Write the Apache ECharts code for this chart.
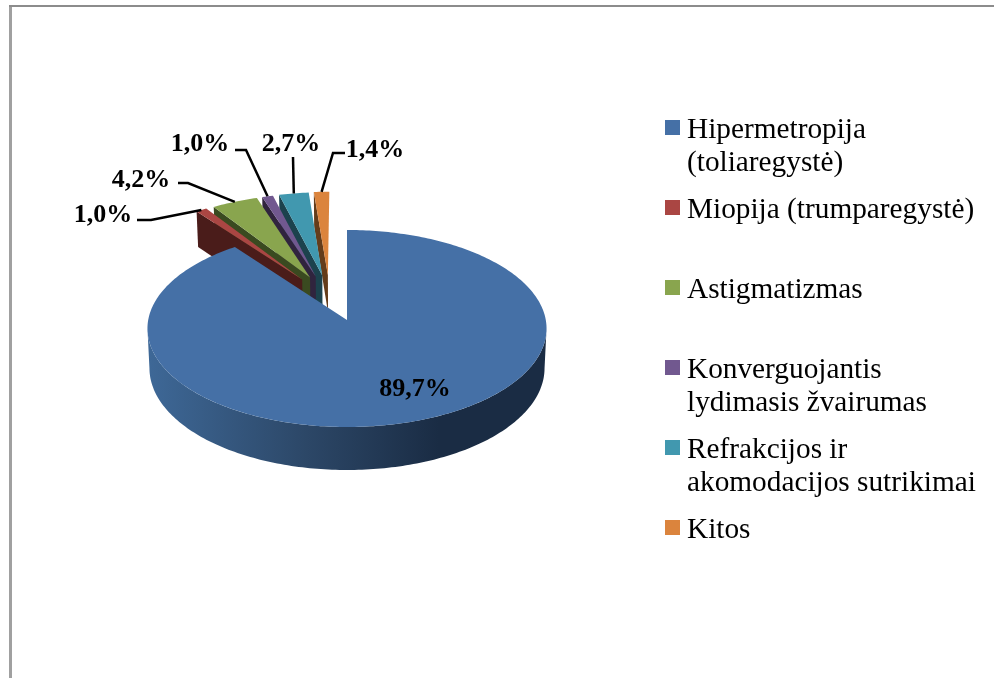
<!DOCTYPE html>
<html>
<head>
<meta charset="utf-8">
<style>
  html, body { margin: 0; padding: 0; background: #fff; }
  #chart { width: 994px; height: 678px; }
</style>
<script src="https://cdn.jsdelivr.net/npm/echarts@6/dist/echarts.min.js"></script>
</head>
<body>
<div id="chart"></div>
<script>
// duomenys
var categories = [
  'Hipermetropija\n(toliaregystė)',
  'Miopija (trumparegystė)',
  'Astigmatizmas',
  'Konverguojantis\nlydimasis žvairumas',
  'Refrakcijos ir\nakomodacijos sutrikimai',
  'Kitos'
];
var values = [89.7, 1.0, 4.2, 1.0, 2.7, 1.4];
var topColors = ['#4570a6', '#aa4643', '#89a54e', '#71588f', '#4198af', '#db843d'];
var wallColors = ['#2a4464', '#4a1c1a', '#3a4a20', '#30243e', '#1c424d', '#643c1a'];

// isvirtu gabalu kryptis (laipsniais) ir atstumas, pagrindinis neisvirtas
var explodeAngle = [0, -28.5, -23.2, -19.5, -15.3, -11.8];
var explodeDist = [0, 0.49, 0.49, 0.49, 0.49, 0.49];

// etikeciu vietos: [teksto centras x, y, linijos pradzia x, y, luzis x, y]
var labelSpots = [
  [415, 389],
  [103, 215, 137, 220, 151, 220],
  [141, 180, 178, 183, 188, 183],
  [200, 144, 235, 150, 246, 150],
  [291, 144, 293, 157, 293, 157],
  [375, 150, 345, 153, 333, 153]
];

// perspektyva: skritulys (u, v) -> ekranas
var cx = 347, cy = 320;
var scaleX = 198.8, scaleY = 97.77, persp = -0.0863, depth = 39.3;

function project(u, v, low) {
  var d = 1 + persp * v;
  return [
    cx + scaleX * u / d * (low ? 0.99 : 1),
    cy + (scaleY * v + (low ? depth : 0)) / d
  ];
}

var total = values.reduce(function (a, b) { return a + b; }, 0);
var starts = [];
values.reduce(function (acc, val, i) {
  starts[i] = acc;
  return acc + val / total * 360;
}, 0);

function rad(deg) { return deg * Math.PI / 180; }

// taskas ant krasto: kampas pagal laikrodzio rodykle nuo virsaus
function rimPoint(i, deg, low) {
  var e = explodeDist[i], a = rad(explodeAngle[i]), t = rad(deg);
  return project(e * Math.sin(a) + Math.sin(t), -e * Math.cos(a) - Math.cos(t), low);
}
function apexPoint(i, low) {
  var e = explodeDist[i], a = rad(explodeAngle[i]);
  return project(e * Math.sin(a), -e * Math.cos(a), low);
}
function arcPoints(i, from, to, low) {
  var pts = [], n = Math.max(2, Math.ceil(Math.abs(to - from)));
  for (var k = 0; k <= n; k++) {
    pts.push(rimPoint(i, from + (to - from) * k / n, low));
  }
  return pts;
}

function fmt(v) {
  return v.toFixed(1).replace('.', ',') + '%';
}

function renderSlice(i, api) {
  var val = api.value(0);
  var from = starts[i], to = from + val / total * 360;
  var children = [];

  if (i === 0) {
    // pagrindinio gabalo sonas, nuo liestines iki liestines
    var upper = arcPoints(0, 95, 265, false);
    var lower = arcPoints(0, 95, 265, true).reverse();
    children.push({
      type: 'polygon',
      shape: { points: upper.concat(lower) },
      style: {
        fill: {
          type: 'linear', x: 1, y: 0, x2: 0, y2: 0,
          colorStops: [
            { offset: 0, color: '#1a2c44' },
            { offset: 0.27, color: '#1a2c44' },
            { offset: 0.6, color: '#2c4767' },
            { offset: 1, color: '#3e6897' }
          ]
        }
      }
    });
  } else {
    // kairysis pjuvis
    children.push({
      type: 'polygon',
      shape: { points: [apexPoint(i, false), rimPoint(i, from, false), rimPoint(i, from, true), apexPoint(i, true)] },
      style: { fill: wallColors[i] }
    });
  }

  children.push({
    type: 'polygon',
    shape: { points: [apexPoint(i, false)].concat(arcPoints(i, from, to, false)) },
    style: { fill: topColors[i] }
  });

  var spot = labelSpots[i];
  if (i > 0) {
    children.push({
      type: 'polyline',
      shape: { points: [[spot[2], spot[3]], [spot[4], spot[5]], rimPoint(i, (from + to) / 2, false)] },
      style: { stroke: '#000', lineWidth: 2.5, fill: null },
      z2: 10
    });
  }
  children.push({
    type: 'text',
    x: spot[0],
    y: spot[1],
    z2: 11,
    style: {
      text: fmt(val),
      fill: '#000',
      font: 'bold 26px "Liberation Serif"',
      align: 'center',
      verticalAlign: 'middle'
    }
  });
  return { type: 'group', children: children };
}

// 5 -> 1, tada pagrindinis, kad kairesni dengtu desinesnius
var drawOrder = [6, 5, 4, 3, 2, 1];

var chart = echarts.init(document.getElementById('chart'), null, { renderer: 'canvas' });
chart.setOption({
  animation: false,
  backgroundColor: '#fff',
  legend: {
    data: categories,
    orient: 'vertical',
    left: 660,
    top: 109,
    selectedMode: false,
    itemWidth: 15,
    itemHeight: 66,
    itemGap: 14,
    // aukstas ikonos remas, kad kvadratas liktu prie pirmos eilutes
    icon: 'path://M0 0H0.01V0.01H0Z M0 6H15V21H0Z M0 66H0.01V66.01H0Z',
    formatter: function (name) {
      return name.indexOf('\n') < 0 ? name + '\n ' : name;
    },
    textStyle: {
      color: '#000',
      fontFamily: 'Liberation Serif',
      fontSize: 29.3,
      lineHeight: 33,
      padding: [0, 0, 0, 2]
    }
  },
  graphic: [
    {
      type: 'line',
      shape: { x1: 10.5, y1: 5, x2: 10.5, y2: 678 },
      style: { stroke: '#a0a0a0', lineWidth: 3 }
    },
    {
      type: 'line',
      shape: { x1: 9, y1: 6, x2: 994, y2: 6 },
      style: { stroke: '#8c8c8c', lineWidth: 2 }
    }
  ],
  series: categories.map(function (name, i) {
    return {
      type: 'custom',
      name: name,
      coordinateSystem: 'none',
      z: drawOrder[i],
      silent: true,
      itemStyle: { color: topColors[i] },
      data: [[values[i]]],
      renderItem: function (params, api) {
        return renderSlice(i, api);
      }
    };
  })
});
</script>
</body>
</html>
